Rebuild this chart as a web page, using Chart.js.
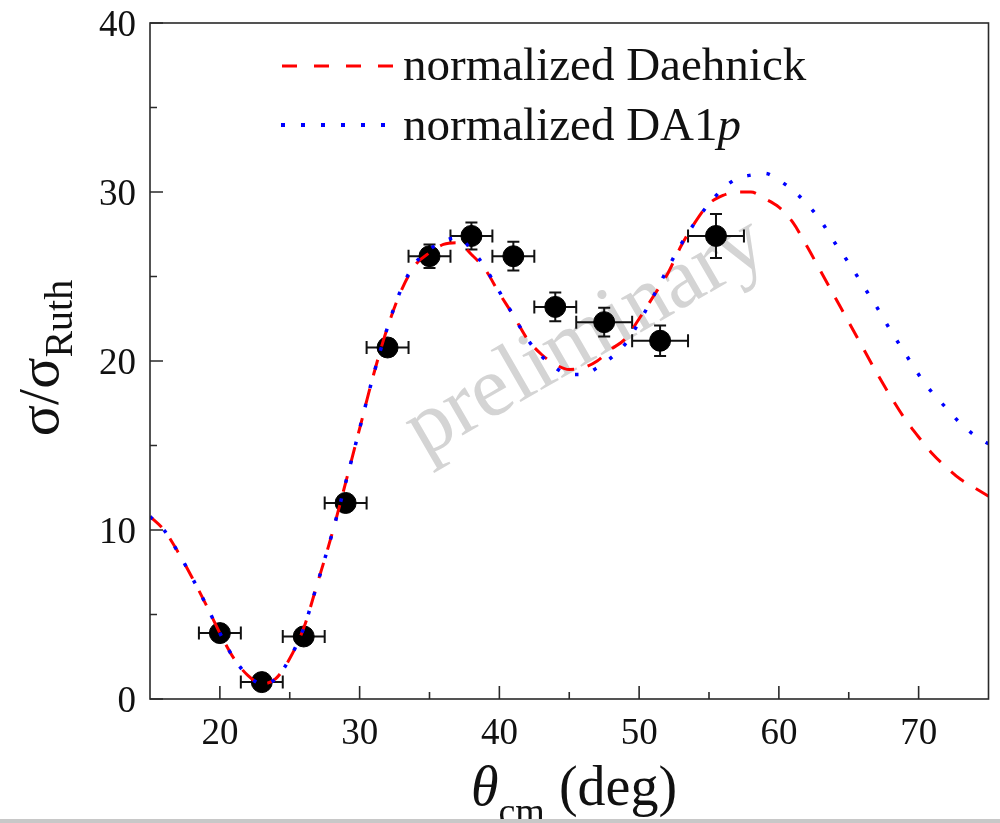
<!DOCTYPE html>
<html>
<head>
<meta charset="utf-8">
<script src="https://cdn.jsdelivr.net/npm/chart.js@4.4.0/dist/chart.umd.min.js"></script>
<style>
  html, body { margin: 0; padding: 0; background: #fff; }
  #wrap { position: relative; width: 1000px; height: 823px; }
  #strip { position: absolute; left: 0; bottom: 0; width: 1000px; height: 4px; background: #c8c8c8; }
</style>
</head>
<body>
<div id="wrap">
  <canvas id="chart" width="1000" height="823"></canvas>
  <div id="strip"></div>
</div>
<script>
// angle grid for the calculated curves (deg)
const thetaGrid = [15, 16, 17, 18, 19, 20, 21, 22, 23, 24, 25, 26, 27, 28, 29, 30,
  31, 32, 33, 34, 35, 36, 37, 38, 39, 40, 41, 42, 43, 44, 45, 46, 47, 48, 49, 50,
  51, 52, 53, 54, 55, 56, 57, 58, 59, 60, 61, 62, 63, 64, 65, 66, 67, 68, 69, 70,
  71, 72, 73, 74, 75];

// normalized Daehnick (red dashed)
const daehnick = [10.8, 10.0, 8.7, 7.2, 5.6, 3.9, 2.4, 1.4, 0.9, 1.2, 2.4, 4.2, 6.9, 9.7, 12.8, 16.0,
  19.2, 22.0, 24.2, 25.7, 26.4, 26.9, 27.0, 26.3, 25.4, 24.0, 22.7, 21.3, 20.4, 19.8, 19.5, 19.6,
  20.0, 20.7, 21.3, 22.5, 23.8, 25.1, 26.8, 28.2, 29.3, 29.8, 30.0, 30.0, 29.6, 29.1, 28.2, 26.8,
  25.3, 23.8, 22.3, 20.8, 19.3, 17.9, 16.6, 15.5, 14.5, 13.7, 13.0, 12.5, 12.0];

// normalized DA1p (blue dotted)
const da1p = [10.8, 10.0, 8.7, 7.2, 5.6, 3.9, 2.4, 1.4, 0.9, 1.2, 2.4, 4.2, 6.9, 9.7, 12.8, 16.0,
  19.2, 22.0, 24.3, 25.8, 26.6, 27.1, 27.3, 26.6, 25.5, 24.1, 22.7, 21.3, 20.3, 19.6, 19.2, 19.2,
  19.6, 20.2, 21.0, 22.3, 23.8, 25.4, 26.9, 28.2, 29.3, 30.2, 30.8, 31.0, 31.1, 30.7, 30.1, 29.3,
  28.3, 27.0, 25.8, 24.5, 23.2, 21.8, 20.5, 19.2, 18.1, 17.2, 16.3, 15.6, 15.1];

// measured points
const expTheta    = [20.0, 23.0, 26.0, 29.0, 32.0, 35.0, 38.0, 41.0, 44.0, 47.5, 51.5, 55.5];
const expSigma    = [3.9, 1.0, 3.7, 11.6, 20.8, 26.2, 27.4, 26.2, 23.2, 22.3, 21.2, 27.4];
const expThetaErr = [1.5, 1.5, 1.5, 1.5, 1.5, 1.5, 1.5, 1.5, 1.5, 2.0, 2.0, 2.0];
const expSigmaErr = [0.3, 0.3, 0.3, 0.4, 0.5, 0.7, 0.8, 0.85, 0.85, 0.85, 0.9, 1.3];

const xTicks = [20, 30, 40, 50, 60, 70];
const xMinor = [25, 35, 45, 55, 65];
const yTicks = [0, 10, 20, 30, 40];
const yMinor = [5, 15, 25, 35];

const serif = '"Liberation Serif", "Times New Roman", serif';

// watermark + error bars under the markers
const underlay = {
  id: 'underlay',
  beforeDatasetsDraw(chart) {
    const ctx = chart.ctx, a = chart.chartArea;
    const xs = chart.scales.x, ys = chart.scales.y;
    ctx.save();
    ctx.beginPath();
    ctx.rect(a.left, a.top, a.right - a.left, a.bottom - a.top);
    ctx.clip();
    ctx.translate(588, 341);
    ctx.rotate(-30 * Math.PI / 180);
    ctx.font = '86px ' + serif;
    ctx.fillStyle = '#d4d4d4';
    ctx.textAlign = 'center';
    ctx.fillText('preliminary', 0, 19);
    ctx.restore();

    ctx.save();
    ctx.strokeStyle = '#111';
    ctx.lineWidth = 2;
    expTheta.forEach((t, i) => {
      const px = xs.getPixelForValue(t), py = ys.getPixelForValue(expSigma[i]);
      const x0 = xs.getPixelForValue(t - expThetaErr[i]);
      const x1 = xs.getPixelForValue(t + expThetaErr[i]);
      const y0 = ys.getPixelForValue(expSigma[i] - expSigmaErr[i]);
      const y1 = ys.getPixelForValue(expSigma[i] + expSigmaErr[i]);
      ctx.beginPath();
      ctx.moveTo(x0, py); ctx.lineTo(x1, py);
      ctx.moveTo(x0, py - 6.5); ctx.lineTo(x0, py + 6.5);
      ctx.moveTo(x1, py - 6.5); ctx.lineTo(x1, py + 6.5);
      ctx.moveTo(px, y0); ctx.lineTo(px, y1);
      ctx.moveTo(px - 6, y0); ctx.lineTo(px + 6, y0);
      ctx.moveTo(px - 6, y1); ctx.lineTo(px + 6, y1);
      ctx.stroke();
    });
    ctx.restore();
  }
};

// frame, inward ticks, tick labels, legend, axis titles
const overlay = {
  id: 'overlay',
  afterDraw(chart) {
    const ctx = chart.ctx, a = chart.chartArea;
    const xs = chart.scales.x, ys = chart.scales.y;
    ctx.save();
    ctx.strokeStyle = '#2a2a2a';
    ctx.lineWidth = 1.6;
    ctx.strokeRect(a.left, a.top, a.right - a.left, a.bottom - a.top);
    ctx.beginPath();
    xTicks.forEach(v => { const p = xs.getPixelForValue(v); ctx.moveTo(p, a.bottom); ctx.lineTo(p, a.bottom - 13); });
    xMinor.forEach(v => { const p = xs.getPixelForValue(v); ctx.moveTo(p, a.bottom); ctx.lineTo(p, a.bottom - 7); });
    yTicks.forEach(v => { const p = ys.getPixelForValue(v); ctx.moveTo(a.left, p); ctx.lineTo(a.left + 13, p); });
    yMinor.forEach(v => { const p = ys.getPixelForValue(v); ctx.moveTo(a.left, p); ctx.lineTo(a.left + 7, p); });
    ctx.stroke();

    // tick labels
    ctx.fillStyle = '#111';
    ctx.font = '37px ' + serif;
    ctx.textBaseline = 'alphabetic';
    ctx.textAlign = 'center';
    xTicks.forEach(v => ctx.fillText(String(v), xs.getPixelForValue(v), 744));
    ctx.textAlign = 'right';
    yTicks.forEach(v => ctx.fillText(String(v), 136, ys.getPixelForValue(v) + 13));
    ctx.textAlign = 'left';

    // legend
    ctx.lineWidth = 3;
    ctx.strokeStyle = '#ff0000';
    ctx.setLineDash([15, 17]);
    ctx.beginPath(); ctx.moveTo(282, 66); ctx.lineTo(396, 66); ctx.stroke();
    ctx.lineWidth = 4;
    ctx.strokeStyle = '#0000ff';
    ctx.setLineDash([4, 16]);
    ctx.beginPath(); ctx.moveTo(281, 125); ctx.lineTo(386, 125); ctx.stroke();
    ctx.setLineDash([]);

    ctx.font = '47px ' + serif;
    ctx.fillText('normalized Daehnick', 403, 80);
    const base = 'normalized DA1';
    ctx.fillText(base, 403, 140);
    const w = ctx.measureText(base).width;
    ctx.font = 'italic 47px ' + serif;
    ctx.fillText('p', 403 + w, 140);

    // x title
    let x = 471;
    ctx.font = 'italic 56px ' + serif;
    ctx.fillText('\u03b8', x, 805);
    x += ctx.measureText('\u03b8').width;
    ctx.font = '38px ' + serif;
    ctx.fillText('cm', x, 824);
    x += ctx.measureText('cm').width;
    ctx.font = '56px ' + serif;
    ctx.fillText(' (deg)', x, 805);

    // y title
    ctx.translate(58, 358);
    ctx.rotate(-Math.PI / 2);
    ctx.font = '58px ' + serif;
    const m = '\u03c3/\u03c3';
    const mw = ctx.measureText(m).width;
    ctx.font = '40px ' + serif;
    const sw = ctx.measureText('Ruth').width;
    const start = -(mw + sw) / 2;
    ctx.font = '58px ' + serif;
    ctx.fillText(m, start, 0);
    ctx.font = '40px ' + serif;
    ctx.fillText('Ruth', start + mw, 14);
    ctx.restore();
  }
};

const curve = (ys) => thetaGrid.map((t, i) => ({ x: t, y: ys[i] }));

new Chart(document.getElementById('chart'), {
  type: 'scatter',
  data: {
    datasets: [
      {
        label: 'normalized DA1p',
        data: curve(da1p),
        showLine: true,
        borderColor: '#0000ff',
        borderWidth: 3.5,
        borderDash: [3.5, 16],
        pointRadius: 0,
        cubicInterpolationMode: 'monotone'
      },
      {
        label: 'normalized Daehnick',
        data: curve(daehnick),
        showLine: true,
        borderColor: '#ff0000',
        borderWidth: 3,
        borderDash: [16, 14],
        pointRadius: 0,
        cubicInterpolationMode: 'monotone'
      },
      {
        label: 'data',
        data: expTheta.map((t, i) => ({ x: t, y: expSigma[i] })),
        backgroundColor: '#000',
        borderColor: '#000',
        pointRadius: 10.5,
        showLine: false
      }
    ]
  },
  options: {
    responsive: false,
    animation: false,
    layout: { padding: { top: 23, right: 11, left: 0, bottom: 0 } },
    plugins: { legend: { display: false }, tooltip: { enabled: false } },
    scales: {
      x: {
        type: 'linear',
        min: 15,
        max: 75,
        afterBuildTicks: s => { s.ticks = xTicks.map(v => ({ value: v })); },
        afterFit: s => { s.height = 124; },
        grid: { display: false },
        border: { display: false },
        ticks: { display: false }
      },
      y: {
        type: 'linear',
        min: 0,
        max: 40,
        afterBuildTicks: s => { s.ticks = yTicks.map(v => ({ value: v })); },
        afterFit: s => { s.width = 150; },
        grid: { display: false },
        border: { display: false },
        ticks: { display: false }
      }
    }
  },
  plugins: [underlay, overlay]
});
</script>
</body>
</html>
